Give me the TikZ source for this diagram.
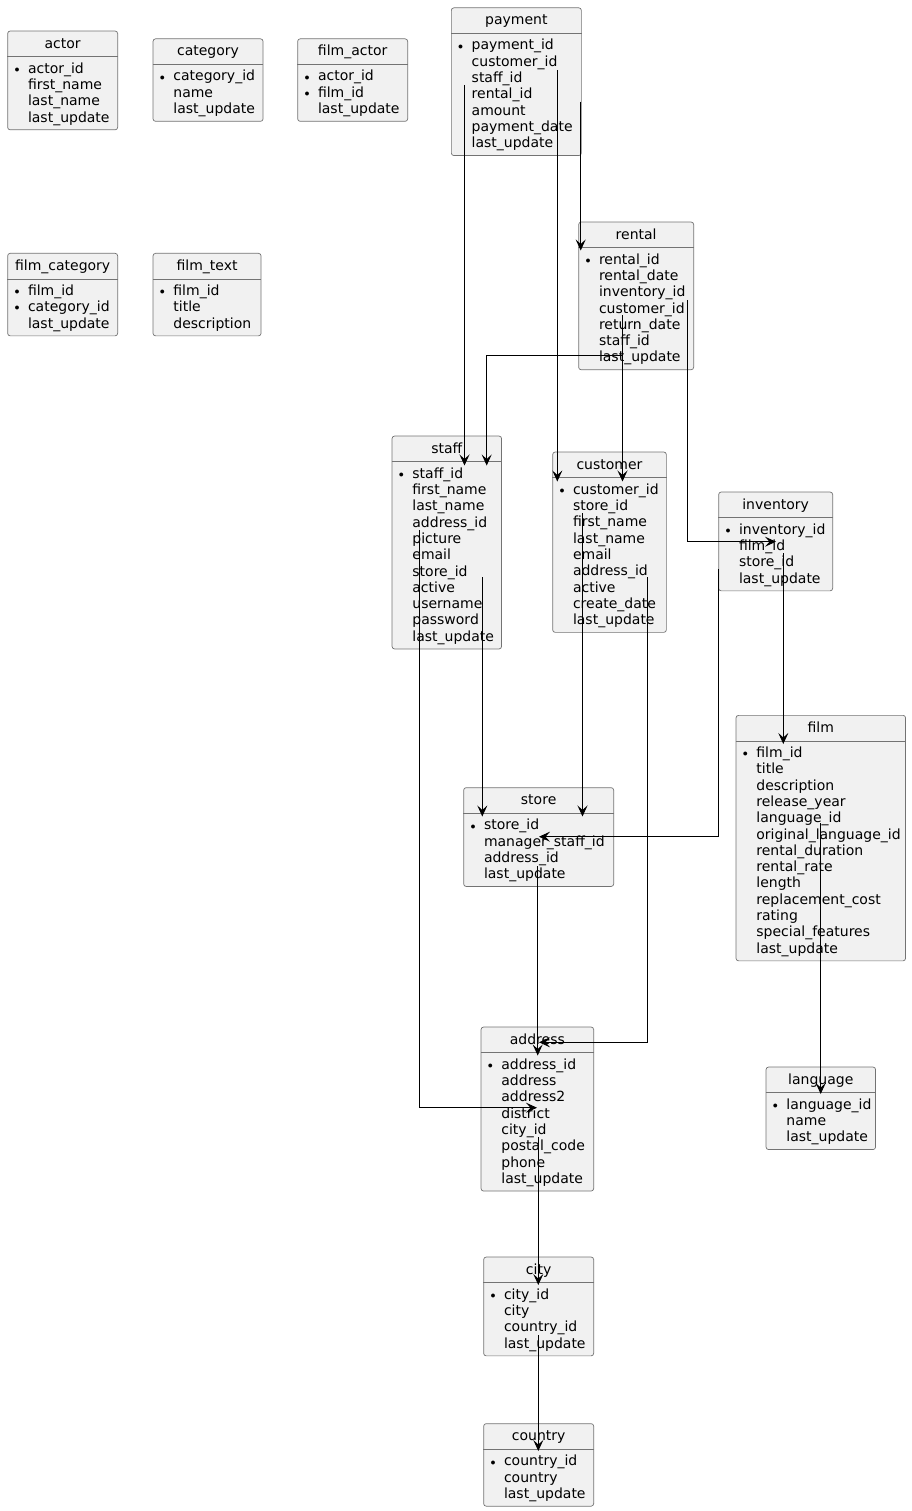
\documentclass[tikz,border=0pt]{standalone}
\usepackage{fontspec}
\setmainfont{DejaVu Sans}
\usepackage{tikz}
\usetikzlibrary{calc, arrows.meta}
\definecolor{efill}{HTML}{F1F1F1}
\newcommand{\pk}{\llap{\raisebox{0.8pt}{\fontsize{10}{10}\selectfont$\bullet$}\hspace{8.5pt}}}
% name, title, x, y, width, height, fields
\newcommand{\erbox}[7]{%
  \node[entity, minimum width=#5pt, minimum height=#6pt] (#1) at (#3,#4) {};
  \node[etitle] (#1-title) at ($(#1.north)+(0,-17.5pt)$) {#2};
  \draw[esep] ($(#1.north west)+(0,-26pt)$) -- ($(#1.north east)+(0,-26pt)$);
  \node[efields] (#1-fields) at ($(#1.north west)+(20.5pt,-42.5pt)$)
    {\begin{tabular}[t]{@{}l@{}}#7\end{tabular}};
}

\begin{document}
\begin{tikzpicture}[
    x=1pt, y=-1pt,
    entity/.style={draw=black!55, line width=0.7pt, fill=efill, rounded corners=2.5pt, anchor=north west, inner sep=0pt},
    esep/.style={draw=black!55, line width=0.7pt},
    etitle/.style={anchor=base, inner sep=0pt, font=\fontsize{14}{16.3}\selectfont},
    efields/.style={anchor=base west, inner sep=0pt, font=\fontsize{14}{16.3}\selectfont},
    fk/.style={-{Stealth[length=11pt, width=10pt, inset=4.5pt]}, line width=0.9pt}
  ]
    \useasboundingbox (0,0) rectangle (911,1511);

    % tables
    \erbox{actor}{actor}{7.3}{30.7}{110}{98.8}{\pk actor\_id\\ first\_name\\ last\_name\\ last\_update}
    \erbox{category}{category}{152.7}{38.5}{110}{82.5}{\pk category\_id\\ name\\ last\_update}
    \erbox{filmactor}{film\_actor}{297.3}{38.5}{110}{82.5}{\pk actor\_id\\ \pk film\_id\\ last\_update}
    \erbox{payment}{payment}{451}{7.5}{130}{147.7}{\pk payment\_id\\ customer\_id\\ staff\_id\\ rental\_id\\ amount\\ payment\_date\\ last\_update}
    \erbox{filmcategory}{film\_category}{7.3}{253}{110}{82.5}{\pk film\_id\\ \pk category\_id\\ last\_update}
    \erbox{filmtext}{film\_text}{152.7}{253}{108}{82.5}{\pk film\_id\\ title\\ description}
    \erbox{rental}{rental}{578.3}{221.7}{115}{147.7}{\pk rental\_id\\ rental\_date\\ inventory\_id\\ customer\_id\\ return\_date\\ staff\_id\\ last\_update}
    \erbox{staff}{staff}{391.7}{435.7}{109.5}{212.9}{\pk staff\_id\\ first\_name\\ last\_name\\ address\_id\\ picture\\ email\\ store\_id\\ active\\ username\\ password\\ last\_update}
    \erbox{customer}{customer}{552.3}{451.7}{113.7}{180.3}{\pk customer\_id\\ store\_id\\ first\_name\\ last\_name\\ email\\ address\_id\\ active\\ create\_date\\ last\_update}
    \erbox{inventory}{inventory}{718.3}{491.7}{114}{98.8}{\pk inventory\_id\\ film\_id\\ store\_id\\ last\_update}
    \erbox{film}{film}{735.7}{715}{169.5}{245.5}{\pk film\_id\\ title\\ description\\ release\_year\\ language\_id\\ original\_language\_id\\ rental\_duration\\ rental\_rate\\ length\\ replacement\_cost\\ rating\\ special\_features\\ last\_update}
    \erbox{store}{store}{463.3}{787.3}{150}{98.8}{\pk store\_id\\ manager\_staff\_id\\ address\_id\\ last\_update}
    \erbox{address}{address}{480.7}{1026.7}{112.6}{164}{\pk address\_id\\ address\\ address2\\ district\\ city\_id\\ postal\_code\\ phone\\ last\_update}
    \erbox{language}{language}{765.7}{1066.7}{109.5}{82.5}{\pk language\_id\\ name\\ last\_update}
    \erbox{city}{city}{483.3}{1256.7}{110}{98.8}{\pk city\_id\\ city\\ country\_id\\ last\_update}
    \erbox{country}{country}{483.3}{1423.3}{110}{82.5}{\pk country\_id\\ country\\ last\_update}

    % link ends
    \coordinate (payment-staff) at (464.5,85);
    \coordinate (payment-customer) at (557.3,70);
    \coordinate (payment-rental) at (580.7,101.7);
    \coordinate (rental-staff) at (622.5,355);
    \coordinate (rental-customer) at (622.5,315);
    \coordinate (rental-inventory) at (687.3,300);
    \coordinate (inventory-film) at (783.3,553);
    \coordinate (inventory-store) at (718.3,569.3);
    \coordinate (staff-store) at (482.3,577);
    \coordinate (customer-store) at (582.5,513);
    \coordinate (staff-address) at (419.5,530);
    \coordinate (customer-address) at (647.5,577);
    \coordinate (store-address) at (537.7,866);
    \coordinate (film-language) at (820.7,823);
    \coordinate (address-city) at (538.3,1137);
    \coordinate (city-country) at (538.3,1335);

    \coordinate (staff-in1) at (464.5,465.5);
    \coordinate (staff-in2) at (486.7,465.5);
    \coordinate (customer-in1) at (557.3,481.5);
    \coordinate (customer-in2) at (622.5,481.5);
    \coordinate (rental-in) at (580.7,250.5);
    \coordinate (inventory-in) at (776,541.7);
    \coordinate (film-in) at (783.3,744);
    \coordinate (store-in1) at (482.3,816.5);
    \coordinate (store-in2) at (582.5,816.5);
    \coordinate (store-in3) at (539,836.7);
    \coordinate (address-in1) at (539,1042.3);
    \coordinate (address-in2) at (537.7,1055.5);
    \coordinate (address-in3) at (537,1107.7);
    \coordinate (language-in) at (820.7,1094);
    \coordinate (city-in) at (538.3,1285);
    \coordinate (country-in) at (538.3,1451);

    % links
    \draw[fk] (payment-staff) -- (staff-in1);
    \draw[fk] (payment-customer) -- (customer-in1);
    \draw[fk] (payment-rental) -- (rental-in);
    \draw[fk] (rental-staff) -| (staff-in2);
    \draw[fk] (rental-customer) -- (customer-in2);
    \draw[fk] (rental-inventory) |- (inventory-in);
    \draw[fk] (inventory-film) -- (film-in);
    \draw[fk] (inventory-store) |- (store-in3);
    \draw[fk] (staff-store) -- (store-in1);
    \draw[fk] (customer-store) -- (store-in2);
    \draw[fk] (staff-address) |- (address-in3);
    \draw[fk] (customer-address) |- (address-in1);
    \draw[fk] (store-address) -- (address-in2);
    \draw[fk] (film-language) -- (language-in);
    \draw[fk] (address-city) -- (city-in);
    \draw[fk] (city-country) -- (country-in);
  \end{tikzpicture}
\end{document}
